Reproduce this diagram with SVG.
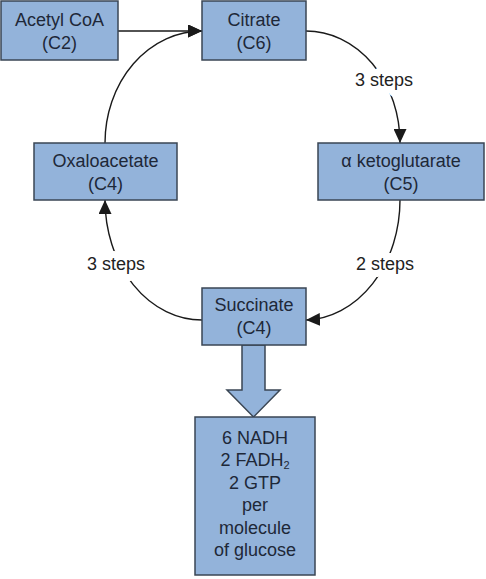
<svg xmlns="http://www.w3.org/2000/svg" width="486" height="579" viewBox="0 0 486 579">
<style>
.box{fill:#93b3da;stroke:#3a4654;stroke-width:1.5}
.t{font-family:"Liberation Sans",Arial,sans-serif;font-size:18px;fill:#1e2838;text-anchor:middle}
.lbl{font-family:"Liberation Sans",Arial,sans-serif;font-size:18px;fill:#222;text-anchor:middle;stroke:#fff;stroke-width:14;paint-order:stroke;stroke-linejoin:round}
.c{fill:none;stroke:#1a1a1a;stroke-width:1.4}
</style>
<defs>
<marker id="ah" markerUnits="userSpaceOnUse" viewBox="0 0 14 13" markerWidth="14" markerHeight="13" refX="14" refY="6.5" orient="auto">
<path d="M0,0 L14,6.5 L0,13 z" fill="#1a1a1a"/>
</marker>
</defs>
<g id="connectors">
<path class="c" d="M118,31 L202,31" marker-end="url(#ah)"/>
<path class="c" d="M105,143 A97,112 0 0 1 202,31" marker-end="url(#ah)"/>
<path class="c" d="M306,31 A94,112 0 0 1 400,143" marker-end="url(#ah)"/>
<path class="c" d="M400,200 A97,120 0 0 1 306,320" marker-end="url(#ah)"/>
<path class="c" d="M202,320 A97,120 0 0 1 105,200" marker-end="url(#ah)"/>
<text class="lbl" x="384" y="86">3 steps</text>
<text class="lbl" x="385" y="270">2 steps</text>
<text class="lbl" x="116" y="270">3 steps</text>
<path class="box" d="M242,345 L265,345 L265,390 L280,390 L253.5,417 L227,390 L242,390 Z"/>
</g>
<g id="acetylcoa">
<rect class="box" x="1" y="1" width="117" height="59"/>
<text class="t" x="59.5" y="26">Acetyl CoA</text>
<text class="t" x="59.5" y="49">(C2)</text>
</g>
<g id="citrate">
<rect class="box" x="202" y="1" width="104" height="59"/>
<text class="t" x="254" y="26">Citrate</text>
<text class="t" x="254" y="49">(C6)</text>
</g>
<g id="oxaloacetate">
<rect class="box" x="34" y="143" width="143" height="57"/>
<text class="t" x="105.5" y="167">Oxaloacetate</text>
<text class="t" x="105.5" y="190">(C4)</text>
</g>
<g id="ketoglutarate">
<rect class="box" x="318" y="143" width="166" height="57"/>
<text class="t" x="401" y="167">α ketoglutarate</text>
<text class="t" x="401" y="190">(C5)</text>
</g>
<g id="succinate">
<rect class="box" x="202" y="288" width="104" height="57"/>
<text class="t" x="254" y="311">Succinate</text>
<text class="t" x="254" y="334">(C4)</text>
</g>
<g id="yield">
<rect class="box" x="195" y="417" width="120" height="158"/>
<text class="t" x="255" y="444">6 NADH</text>
<text class="t" x="255" y="466">2 FADH<tspan font-size="11" dy="3">2</tspan></text>
<text class="t" x="255" y="489">2 GTP</text>
<text class="t" x="255" y="511">per</text>
<text class="t" x="255" y="534">molecule</text>
<text class="t" x="255" y="556">of glucose</text>
</g>
</svg>
